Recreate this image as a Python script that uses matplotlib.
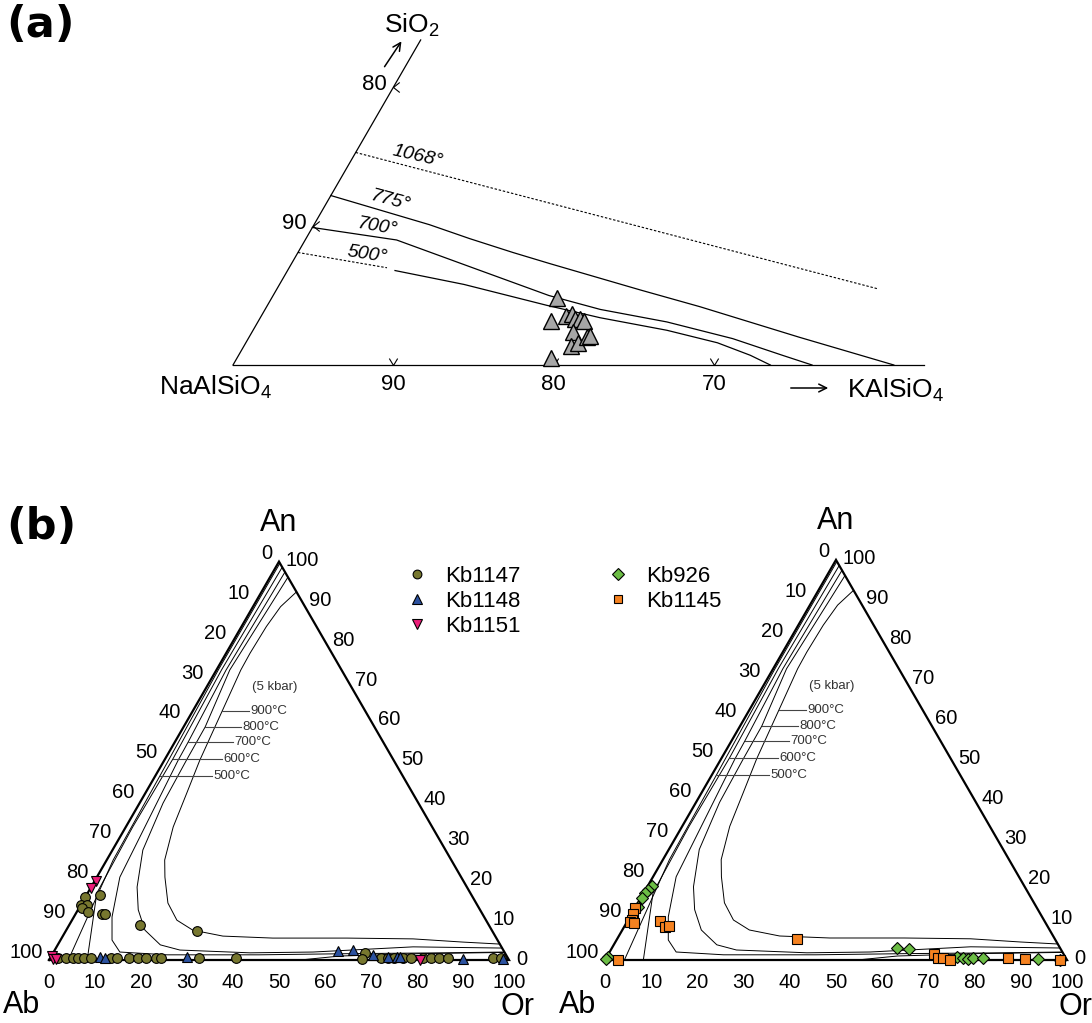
import numpy as np
import matplotlib.pyplot as plt
import matplotlib
from matplotlib.path import Path

matplotlib.rcParams['font.family'] = 'Liberation Sans'
matplotlib.rcParams['mathtext.fontset'] = 'custom'
matplotlib.rcParams['mathtext.rm'] = 'Liberation Sans'
matplotlib.rcParams['mathtext.it'] = 'Liberation Sans:italic'

W, H = 1092, 1023
SQ3 = np.sqrt(3) / 2

# ---------------- (a) NaAlSiO4 - KAlSiO4 - SiO2, wt% (Ks, SiO2) ----------------
neph_ks = [17.8, 18.2, 19.6, 19.0, 19.3, 19.7, 20.0, 20.3, 20.0, 20.4, 20.7, 21.1, 21.2]
neph_q = [4.8, 3.2, 0.5, 3.5, 3.7, 3.3, 3.3, 3.2, 2.4, 1.4, 1.6, 2.0, 2.1]

t1068_ks = [0.0, 37.4]
t1068_q = [15.3, 5.5]
t775_ks = [0.0, 7.2, 10.2, 13.4, 16.1, 22.7, 27.0, 34.3, 41.2]
t775_q = [12.2, 10.1, 9.1, 8.1, 7.3, 5.4, 4.2, 2.0, 0.0]
t700_ks = [0.0, 5.7, 11.3, 17.2, 20.9, 25.5, 30.2, 33.9, 36.1]
t700_q = [9.9, 9.0, 7.05, 5.0, 4.0, 3.1, 1.9, 0.7, 0.0]
t500_dash_ks = [0.0, 6.1]
t500_dash_q = [8.1, 7.0]
t500_ks = [6.7, 11.5, 17.4, 21.2, 25.8, 29.4, 31.9, 33.5]
t500_q = [6.8, 5.8, 4.3, 3.4, 2.5, 1.6, 0.7, 0.0]

# ---------------- (b) feldspar An-Ab-Or, mol% (Or, An) ----------------
kb1147_or = [0.0, 2.9, 0.0, 1.4, 0.6, 2.5, 5.7, 6.4, 15.4, 28.5,
             1.7, 3.5, 5.0, 6.1, 7.4, 8.9, 13.3, 14.6, 17.2, 19.1, 20.9, 23.0, 24.1, 32.4, 40.4,
             67.8, 68.0, 72.0, 73.5, 74.8, 76.7, 78.5, 81.1, 82.8, 84.6, 86.5, 96.3, 98.0]
kb1147_an = [15.8, 16.3, 13.8, 13.8, 13.1, 12.0, 11.5, 11.5, 8.8, 7.3,
             0.5, 0.5, 0.5, 0.5, 0.5, 0.5, 0.5, 0.5, 0.5, 0.5, 0.5, 0.5, 0.5, 0.5, 0.5,
             1.8, 0.2, 0.5, 0.5, 0.5, 0.5, 0.5, 0.5, 0.5, 0.5, 0.5, 0.5, 0.5]
kb1148_or = [10.7, 11.9, 29.6, 61.7, 64.8, 69.8, 73.3, 75.3, 75.9, 89.9, 98.6]
kb1148_an = [0.75, 0.5, 0.75, 2.3, 2.5, 1.3, 0.75, 0.75, 0.75, 0.25, 0.25]
kb1151_or = [0.3, 0.0, 0.2, 0.8, 1.5, 80.7]
kb1151_an = [19.8, 18.1, 1.0, 0.3, 0.2, 0.1]

kb926_or = [0.9, 0.6, 0.3, 0.3, 0.5, 0.3, 0.1, 61.7, 64.4, 75.8, 77.2, 78.4, 79.4, 81.6, 93.6, 98.5]
kb926_an = [18.5, 17.5, 16.8, 15.5, 13.3, 0.75, 0.25, 3.0, 2.75, 0.75, 0.5, 0.25, 0.5, 0.5, 0.25, 0.0]
kb1145_or = [0.0, 0.3, 0.8, 0.7, 1.6, 7.0, 8.9, 9.6, 2.8, 38.9, 70.5, 71.8, 72.9, 74.7, 87.0, 90.8, 98.5]
kb1145_an = [13.0, 11.5, 10.0, 9.5, 9.3, 9.8, 8.3, 8.5, 0.0, 5.3, 1.5, 0.5, 0.5, 0.0, 0.5, 0.25, 0.0]

# two-feldspar solvus isotherms at 5 kbar
sol900_or = [7.6, 6.0, 5.4, 5.2, 5.3, 6.4, 7.7, 9.0, 10.3, 12.6, 14.8, 18.7, 22.8, 27.5, 34.8, 45.9, 62.0, 76.5, 87.7, 96.0]
sol900_an = [92.4, 88.7, 83.7, 77.0, 72.8, 62.5, 50.2, 41.9, 33.4, 25.1, 20.8, 14.3, 10.0, 7.5, 6.0, 5.5, 5.5, 5.3, 4.5, 4.0]
sol800_or = [3.9, 2.9, 4.7, 4.8, 5.1, 6.6, 10.0, 13.1, 17.1, 22.3, 27.2, 42.8, 56.4, 77.5, 97.0]
sol800_an = [96.1, 72.8, 58.5, 50.2, 39.4, 27.6, 18.3, 12.6, 7.5, 3.8, 2.5, 1.8, 2.0, 3.3, 3.0]
sol700_or = [2.6, 2.1, 2.9, 3.0, 5.0, 8.3, 11.2, 14.4, 25.0, 45.0, 65.0, 85.0, 98.0]
sol700_an = [97.4, 72.8, 54.7, 50.2, 20.8, 10.8, 5.0, 2.0, 1.3, 1.3, 1.6, 1.8, 2.0]
sol600_or = [1.4, 1.1, 1.7, 1.5, 2.0, 8.3]
sol600_an = [98.6, 72.8, 50.5, 33.4, 16.8, 0.0]
sol500_or = [0.4, 0.4, 1.0, 1.4, 4.2]
sol500_an = [99.6, 72.8, 46.2, 25.1, 0.0]
alk_or = [54.6, 62.8, 80.0, 98.1]
alk_an = [0.0, 1.0, 1.6, 1.9]

iso_names = ['500°C', '600°C', '700°C', '800°C', '900°C']
iso_label_an = [46.2, 50.5, 54.7, 58.5, 62.5]

bottom_ticks = np.arange(0, 101, 10)


def tern(a, top):
    a = np.asarray(a, float)
    top = np.asarray(top, float)
    return a + top / 2, top * SQ3


def place_axes(ox, oy, s, xlim, ylim):
    # ox, oy: pixel position of the data origin (y down), s: pixels per unit
    left, right = ox + xlim[0] * s, ox + xlim[1] * s
    top, bottom = oy - ylim[1] * s, oy - ylim[0] * s
    ax = fig.add_axes([left / W, 1 - bottom / H, (right - left) / W, (bottom - top) / H])
    ax.set_xlim(*xlim)
    ax.set_ylim(*ylim)
    ax.axis('off')
    return ax


def ftext(x, y, s, **kw):
    fig.text(x / W, 1 - y / H, s, **kw)


PX = 0.72  # pixels -> points at 100 dpi

fig = plt.figure(figsize=(W / 100, H / 100), dpi=100)

# ======================= (a) =======================
ax_a = place_axes(233, 365, 16.04, (-14.5, 53.5), (-4.2, 22.75))

ax_a.plot(*tern([0, 0], [0, 23.4]), color='k', lw=0.9)
ax_a.plot(*tern([0, 43.1], [0, 0]), color='k', lw=0.9)

ax_a.plot(*tern(t1068_ks, t1068_q), color='k', lw=0.8, ls=(0, (2.2, 1.6)))
ax_a.plot(*tern(t775_ks, t775_q), color='k', lw=0.9)
ax_a.plot(*tern(t700_ks, t700_q), color='k', lw=0.9)
ax_a.plot(*tern(t500_dash_ks, t500_dash_q), color='k', lw=0.8, ls=(0, (2.2, 1.6)))
ax_a.plot(*tern(t500_ks, t500_q), color='k', lw=0.9)

ax_a.plot(*tern(neph_ks, neph_q), ls='none', marker='^', ms=11, mfc='#a6a6a6',
          mec='k', mew=1.0, zorder=5)

lt = Path([(1, 0.8), (0, 0), (1, -0.8)], [Path.MOVETO, Path.LINETO, Path.LINETO])
vee = Path([(-0.6, 1), (0, 0), (0.6, 1)], [Path.MOVETO, Path.LINETO, Path.LINETO])
ax_a.plot(*tern([0, 0], [10, 20]), ls='none', marker=lt, ms=9, mfc='none', mec='k', mew=0.8)
ax_a.plot(*tern([10, 20, 30], [0, 0, 0]), ls='none', marker=vee, ms=10, mfc='none', mec='k', mew=0.8)

for q in [10, 20]:
    ax_a.annotate(str(100 - q), tern(0, q), xytext=(-7 * PX, 3 * PX), textcoords='offset points',
                  ha='right', va='center', fontsize=16)
for k in [10, 20, 30]:
    ax_a.annotate(str(100 - k), tern(k, 0), xytext=(0, -19 * PX), textcoords='offset points',
                  ha='center', va='center', fontsize=16)

ax_a.text(11.53, 13.03, '1068°', fontsize=14, style='italic', rotation=-13, ha='center', va='center')
ax_a.text(9.85, 10.22, '775°', fontsize=14, style='italic', rotation=-15, ha='center', va='center')
ax_a.text(9.04, 8.60, '700°', fontsize=14, style='italic', rotation=-10, ha='center', va='center')
ax_a.text(8.35, 6.86, '500°', fontsize=14, style='italic', rotation=-9, ha='center', va='center')

ftext(412, 25, r'SiO$_2$', fontsize=19, ha='center', va='center')
ftext(216, 387, r'NaAlSiO$_4$', fontsize=19, ha='center', va='center')
ftext(847, 390, r'KAlSiO$_4$', fontsize=19, ha='left', va='center')
ax_a.annotate('', xy=(403, H - 39), xytext=(383, H - 69), xycoords='figure pixels',
              arrowprops=dict(arrowstyle='->', lw=1.1, color='k', mutation_scale=14))
ax_a.annotate('', xy=(831, H - 388), xytext=(788, H - 388), xycoords='figure pixels',
              arrowprops=dict(arrowstyle='->', lw=1.1, color='k', mutation_scale=14))

ftext(6, 25, '(a)', fontsize=31, fontweight='bold', family='DejaVu Sans', ha='left', va='center')
ftext(6, 527, '(b)', fontsize=31, fontweight='bold', family='DejaVu Sans', ha='left', va='center')

# ======================= (b) =======================
solvus = [(sol900_or, sol900_an), (sol800_or, sol800_an), (sol700_or, sol700_an),
          (sol600_or, sol600_an), (sol500_or, sol500_an), (alk_or, alk_an)]


def feldspar_frame(ax):
    ax.plot(*tern([0, 100, 0, 0], [0, 0, 100, 0]), color='k', lw=1.6, solid_joinstyle='miter', zorder=3)
    for o, a in solvus:
        ax.plot(*tern(o, a), color='k', lw=0.7, zorder=2)

    upper = [(sol500_or, sol500_an), (sol600_or, sol600_an), (sol700_or, sol700_an),
             (sol800_or, sol800_an), (sol900_or, sol900_an)]
    text_x = [35.7, 37.8, 40.2, 42.0, 43.7]
    for (o, a), name, lan, tx in zip(upper, iso_names, iso_label_an, text_x):
        o = np.asarray(o)
        a = np.asarray(a)
        m = a >= 20
        o_at = np.interp(lan, a[m][::-1], o[m][::-1])
        x0, y0 = tern(o_at, lan)
        ax.plot([x0, tx - 0.3], [y0, y0], color='#444444', lw=0.8)
        ax.text(tx, y0, name, fontsize=9.5, color='#333333', ha='left', va='center')
    ax.text(49.1, 59.3, '(5 kbar)', fontsize=9.5, color='#333333', ha='center', va='center')

    for v in bottom_ticks:
        ax.annotate(str(v), tern(v, 0), xytext=(0, -23 * PX), textcoords='offset points',
                    ha='center', va='center', fontsize=14.5)
        ax.annotate(str(100 - v), tern(0, v), xytext=(-6.5 * PX, 8 * PX), textcoords='offset points',
                    ha='right', va='center', fontsize=14.5)
        ax.annotate(str(v), tern(100 - v, v), xytext=(7 * PX, 1 * PX), textcoords='offset points',
                    ha='left', va='center', fontsize=14.5)
    ax.annotate('An', tern(0, 100), xytext=(0, 39 * PX), textcoords='offset points',
                ha='center', va='center', fontsize=22)
    ax.annotate('Ab', tern(0, 0), xytext=(-27 * PX, -45 * PX), textcoords='offset points',
                ha='center', va='center', fontsize=22)
    ax.annotate('Or', tern(100, 0), xytext=(9 * PX, -47 * PX), textcoords='offset points',
                ha='center', va='center', fontsize=22)


mk = dict(ls='none', mec='k', mew=0.8, zorder=5)
leg_kw = dict(loc='upper left', bbox_transform=fig.transFigure, frameon=False, fontsize=16,
              borderpad=0, handlelength=1.0, handletextpad=0.75, labelspacing=0.18, markerscale=0.9)

ax_l = place_axes(49, 960, 4.6, (-10.6, 108.6), (-13.9, 96))
feldspar_frame(ax_l)
h1, = ax_l.plot(*tern(kb1147_or, kb1147_an), marker='o', ms=7, mfc='#77772f', label='Kb1147', **mk)
h2, = ax_l.plot(*tern(kb1148_or, kb1148_an), marker='^', ms=7.5, mfc='#2c52a0', label='Kb1148', **mk)
h3, = ax_l.plot(*tern(kb1151_or, kb1151_an), marker='v', ms=7.5, mfc='#ec1e79', label='Kb1151', **mk)
ax_l.legend(handles=[h1, h2, h3], bbox_to_anchor=(395 / W, 1 - 555 / H), **leg_kw)

ax_r = place_axes(605, 960, 4.62, (-12.8, 105.4), (-13.8, 96))
feldspar_frame(ax_r)
h4, = ax_r.plot(*tern(kb926_or, kb926_an), marker='D', ms=6.5, mfc='#6cbd45', label='Kb926', **mk)
h5, = ax_r.plot(*tern(kb1145_or, kb1145_an), marker='s', ms=6.5, mfc='#f58220', label='Kb1145', **mk)
ax_r.legend(handles=[h4, h5], bbox_to_anchor=(596 / W, 1 - 555 / H), **leg_kw)

fig.savefig('out.png', dpi=100)
